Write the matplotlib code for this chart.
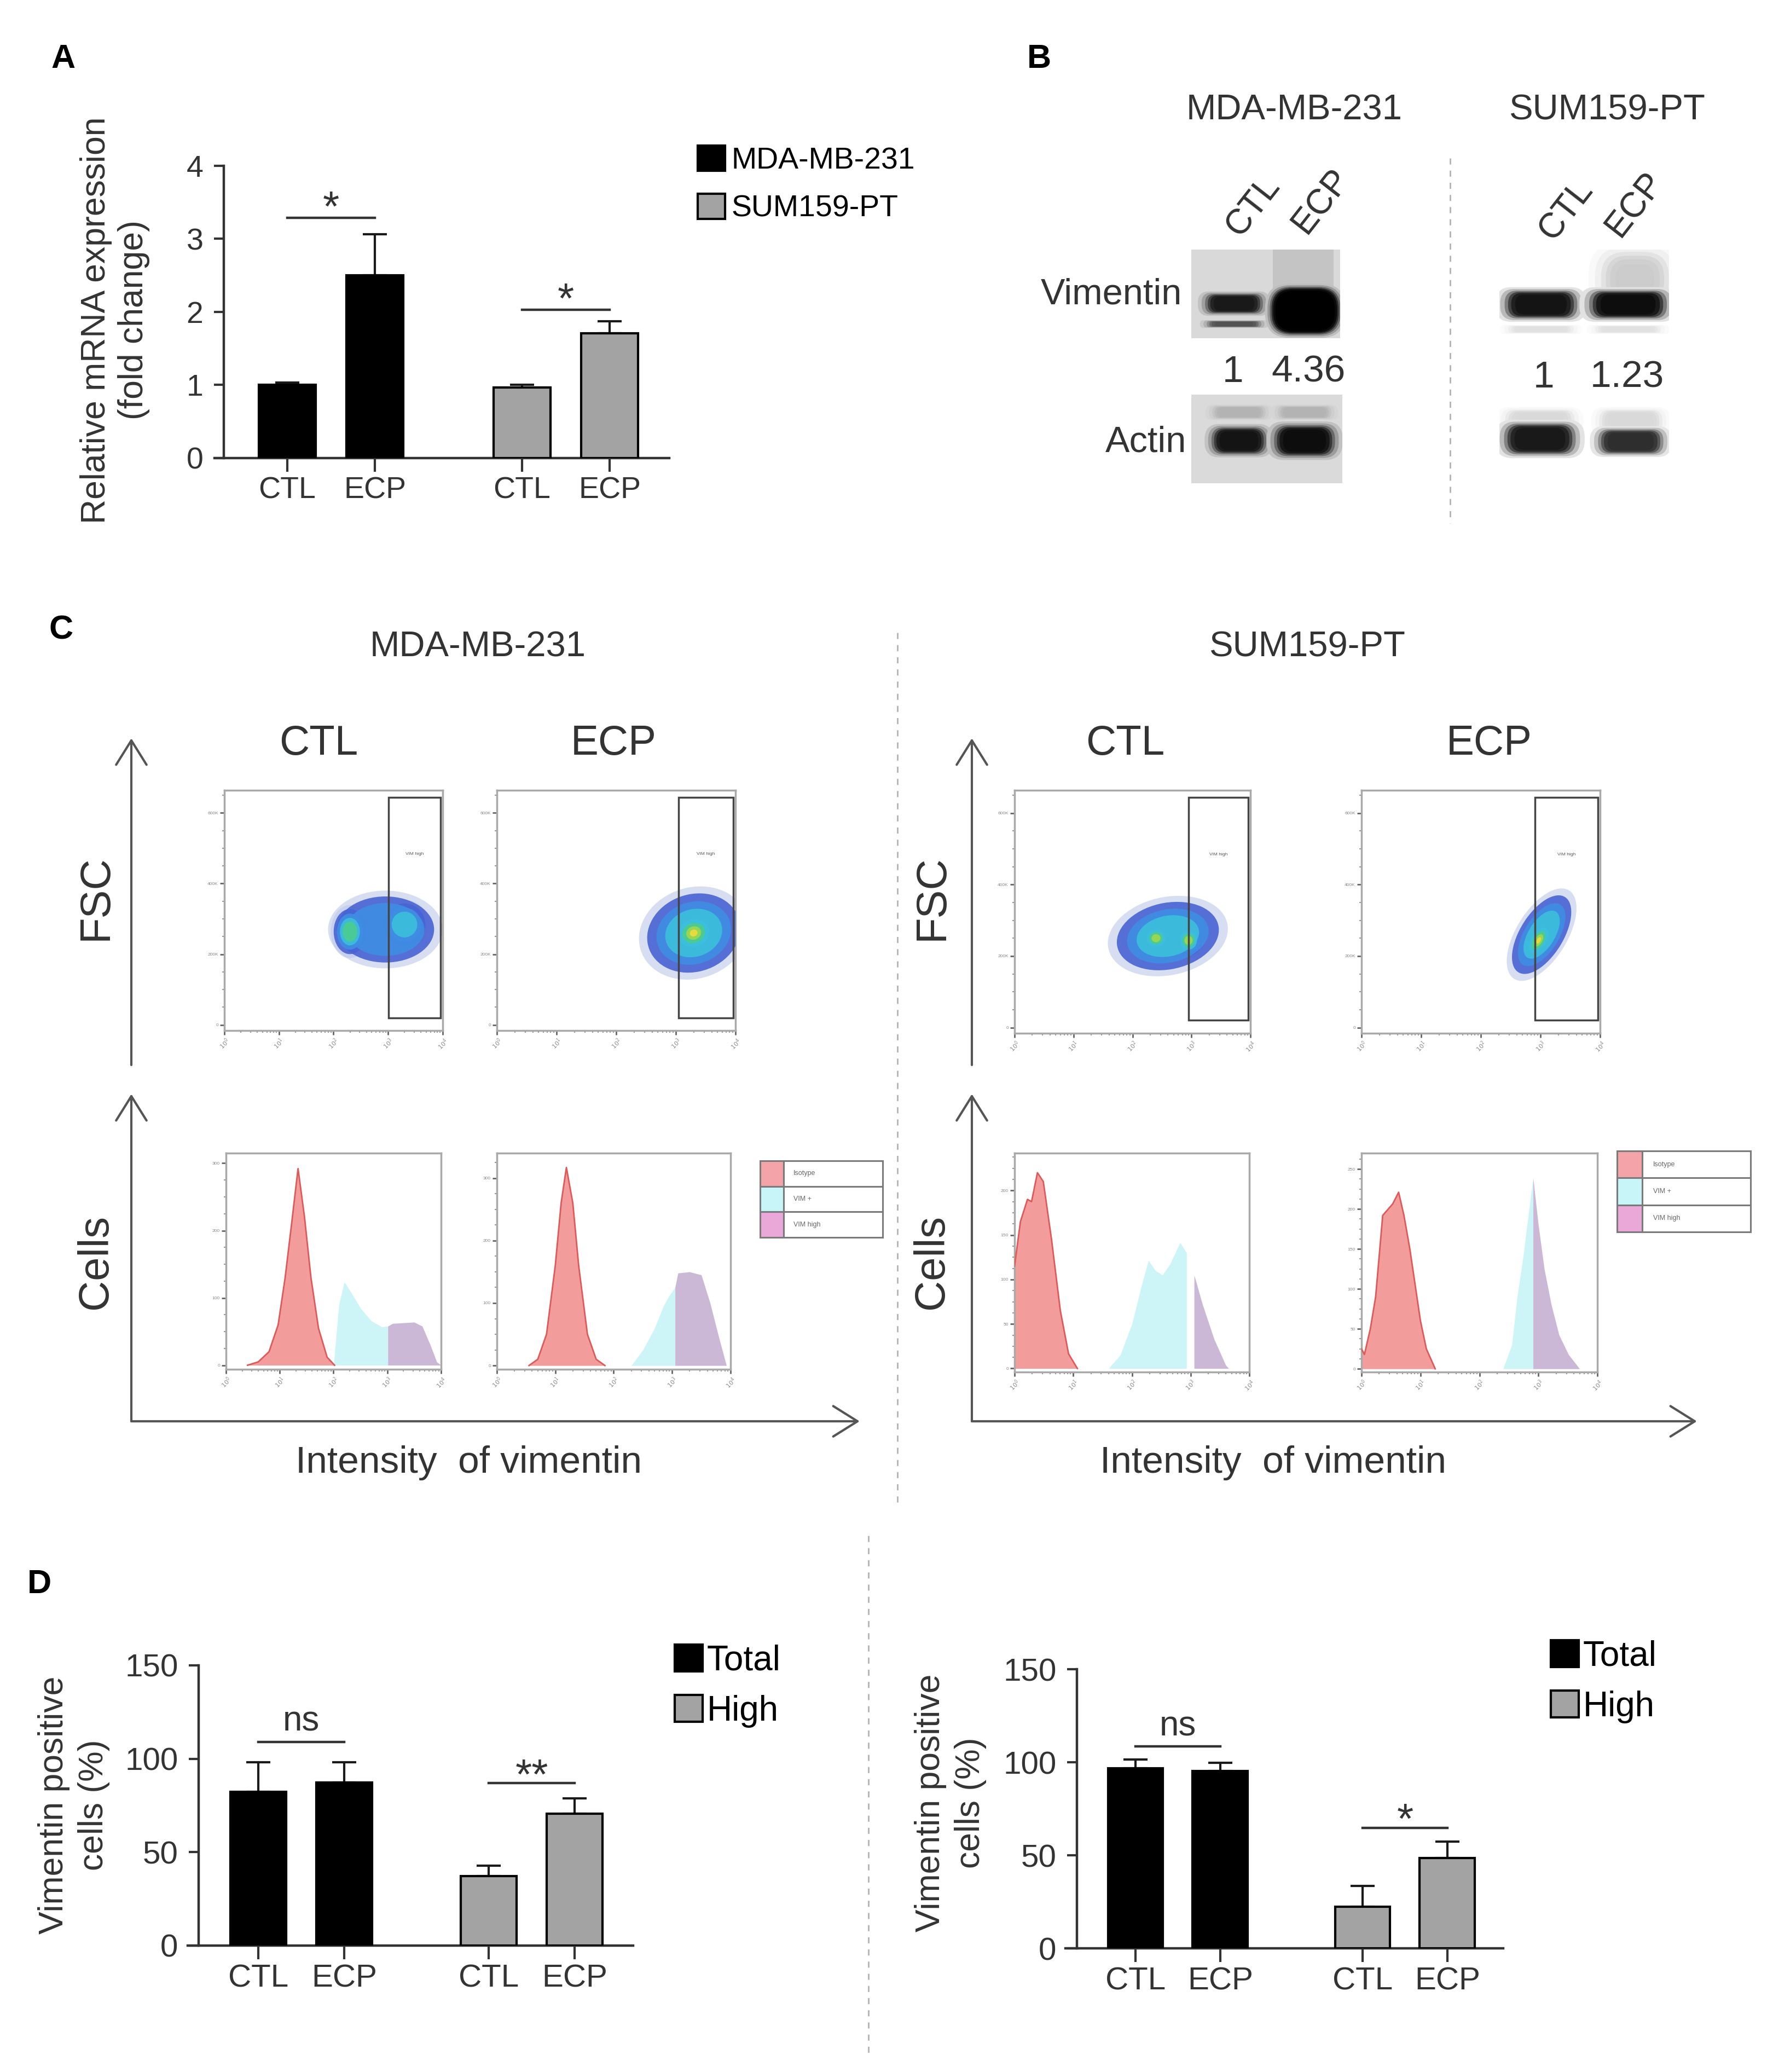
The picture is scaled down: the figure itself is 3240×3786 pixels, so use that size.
import numpy as np
import matplotlib
matplotlib.use("Agg")
import matplotlib.pyplot as plt
import matplotlib.colors as mcolors
from matplotlib.patches import Rectangle, Ellipse, FancyBboxPatch, FancyArrowPatch
from matplotlib.ticker import AutoMinorLocator

W, H = 3241, 3786
plt.rcParams['font.family'] = ['Liberation Sans', 'DejaVu Sans']
TXT = '#333333'

# ---------------- data ----------------
groups = ["CTL", "ECP", "CTL", "ECP"]

# A: relative mRNA expression (fold change)
mrna_lines = ["MDA-MB-231", "SUM159-PT"]
mrna_mean = [1.0, 2.5, 0.97, 1.71]
mrna_err = [0.03, 0.56, 0.03, 0.16]
mrna_sig_y = [3.29, 2.03]
mrna_sig_txt = ["*", "*"]

# B: western blot
blot_lanes = ["CTL", "ECP"]
vim_ratio_mda = ["1", "4.36"]
vim_ratio_sum = ["1", "1.23"]
vim_dark_mda = [0.9, 1.0]
actin_dark_mda = [0.92, 0.95]
vim_dark_sum = [0.92, 0.95]
actin_dark_sum = [0.9, 0.82]

# C: flow cytometry histograms (x in decades, y in axis tick units)
mda_ctl_iso_x = [0.4, 0.6, 0.8, 0.97, 1.1, 1.22, 1.34, 1.46, 1.58, 1.72, 1.88, 2.02]
mda_ctl_iso_y = [0.0, 0.05, 0.2, 0.6, 1.3, 2.1, 2.92, 2.2, 1.3, 0.55, 0.12, 0.0]
mda_ctl_vim_x = [2.0, 2.1, 2.2, 2.35, 2.5, 2.7, 2.9, 3.01, 3.1, 3.3, 3.5, 3.65, 3.8, 3.92, 4.0]
mda_ctl_vim_y = [0.0, 0.9, 1.24, 1.05, 0.85, 0.66, 0.57, 0.58, 0.62, 0.63, 0.64, 0.58, 0.3, 0.05, 0.0]

mda_ecp_iso_x = [0.55, 0.7, 0.85, 1.0, 1.1, 1.19, 1.3, 1.4, 1.55, 1.7, 1.85]
mda_ecp_iso_y = [0.0, 0.1, 0.5, 1.6, 2.6, 3.17, 2.6, 1.6, 0.5, 0.1, 0.0]
mda_ecp_vim_x = [2.3, 2.5, 2.7, 2.85, 2.95, 3.05, 3.1, 3.3, 3.5, 3.65, 3.8, 3.93]
mda_ecp_vim_y = [0.0, 0.25, 0.6, 0.95, 1.12, 1.25, 1.48, 1.5, 1.45, 1.0, 0.45, 0.0]

sum_ctl_iso_x = [0.0, 0.03, 0.1, 0.22, 0.29, 0.39, 0.49, 0.63, 0.78, 0.92, 1.07]
sum_ctl_iso_y = [2.3, 2.6, 3.3, 3.8, 3.75, 4.4, 4.2, 2.9, 1.3, 0.33, 0.0]
sum_ctl_vim_x = [1.6, 1.8, 2.0, 2.15, 2.28, 2.4, 2.52, 2.65, 2.82, 2.93, 3.06, 3.2, 3.4, 3.6, 3.65]
sum_ctl_vim_y = [0.0, 0.3, 1.0, 1.8, 2.43, 2.2, 2.1, 2.35, 2.83, 2.6, 2.1, 1.45, 0.66, 0.07, 0.0]

sum_ecp_iso_x = [0.0, 0.05, 0.15, 0.24, 0.36, 0.53, 0.63, 0.72, 0.82, 0.91, 1.0, 1.1, 1.25]
sum_ecp_iso_y = [0.5, 0.36, 1.0, 1.8, 3.84, 4.13, 4.42, 3.84, 3.0, 2.1, 1.2, 0.5, 0.0]
sum_ecp_vim_x = [2.4, 2.55, 2.64, 2.75, 2.84, 2.91, 3.0, 3.1, 3.22, 3.35, 3.51, 3.7]
sum_ecp_vim_y = [0.0, 0.6, 1.8, 2.9, 3.98, 4.78, 3.6, 2.5, 1.6, 0.85, 0.36, 0.0]

gate_lo = [3.01, 3.05, 2.95, 2.91]   # VIM high gate start (decades)
hist_labels = ["Isotype", "VIM +", "VIM high"]

# density clouds: (x, y, width, height, angle, levels)
mda_ctl_cloud = [(2.95, 1.35, 2.1, 1.1, 0, 3), (2.3, 1.32, 0.7, 0.75, 0, 5), (3.3, 1.42, 0.9, 0.7, 0, 4)]
mda_ecp_cloud = [(3.3, 1.3, 1.85, 1.3, 10, 4), (3.3, 1.3, 1.0, 0.75, 10, 7)]
sum_ctl_cloud = [(2.6, 1.28, 2.05, 1.1, 8, 4), (2.4, 1.25, 0.6, 0.45, 0, 6), (2.95, 1.22, 0.55, 0.5, 0, 6)]
sum_ecp_cloud = [(3.02, 1.3, 1.55, 0.8, 50, 4), (2.97, 1.22, 0.8, 0.45, 50, 7)]

# D: vimentin positive cells (%)
d_labels = ["Total", "High"]
d_mda_mean = [82.2, 87.4, 37.1, 70.5]
d_mda_err = [15.9, 10.7, 5.7, 8.2]
d_mda_sig_y = [109, 86.9]
d_mda_sig_txt = ["ns", "**"]
d_sum_mean = [96.7, 95.3, 22.5, 48.4]
d_sum_err = [4.9, 4.3, 11.1, 9.0]
d_sum_sig_y = [108.4, 64.8]
d_sum_sig_txt = ["ns", "*"]

bar_pos = [0, 1, 2.68, 3.68]
bar_colors = ['black', 'black', '#a3a3a3', '#a3a3a3']

# ---------------- figure ----------------
fig = plt.figure(figsize=(W / 100, H / 100), dpi=100)
canvas = fig.add_axes([0, 0, 1, 1])
canvas.set_xlim(0, W)
canvas.set_ylim(H, 0)
canvas.axis('off')


def px_axes(x0, y0, x1, y1):
    return fig.add_axes([x0 / W, 1 - y1 / H, (x1 - x0) / W, (y1 - y0) / H])


def label(x, y, s, size, rot=0, **kw):
    kw.setdefault('color', TXT)
    if rot == 0:
        # y is the centre of the capitals
        canvas.text(x, y + 0.36 * size * 100 / 72, s, fontsize=size, ha=kw.pop('ha', 'center'),
                    va='baseline', **kw)
    else:
        canvas.text(x, y, s, fontsize=size, ha=kw.pop('ha', 'center'), va='center',
                    rotation=rot, rotation_mode='anchor', **kw)


def dashed(x, y0, y1):
    canvas.plot([x, x], [y0, y1], color='#b3b3b3', lw=2, ls=(0, (4, 4)))


def arrow(x0, y0, x1, y1):
    canvas.add_patch(FancyArrowPatch((x0, y0), (x1, y1), arrowstyle='->,head_length=0.8,head_width=0.5',
                                     mutation_scale=40, lw=3, color='#555555', shrinkA=0, shrinkB=0))


# panel letters
for s, x, y in [("A", 116, 102), ("B", 1899, 102), ("C", 112, 1145), ("D", 72, 2889)]:
    label(x, y, s, 44, color='black', fontweight='bold')


# ---------------- bar panels (A, D) ----------------
def bar_panel(box, xlim, spine_x, means, errs, ylim, yticks, yfs, xfs, sig_y, sig_txt, sig_fs, sig_off):
    ax = px_axes(*box)
    bars = ax.bar(bar_pos, means, width=0.65, color=bar_colors, edgecolor='black', linewidth=3, zorder=3)
    ax.errorbar(bar_pos, means, yerr=[np.zeros(len(means)), errs], fmt='none', ecolor='#1a1a1a',
                elinewidth=3, capsize=16, capthick=3, zorder=2)
    ax.set_xlim(*xlim)
    ax.set_ylim(*ylim)
    ax.set_facecolor('none')
    for s in ['top', 'right']:
        ax.spines[s].set_visible(False)
    ax.spines['left'].set_position(('data', spine_x))
    ax.spines['left'].set_bounds(ylim[0], ylim[1])
    for s in ['left', 'bottom']:
        ax.spines[s].set_color('#333333')
        ax.spines[s].set_linewidth(3.2)
    ax.set_yticks(yticks)
    ax.set_xticks(bar_pos)
    ax.set_xticklabels(groups)
    ax.tick_params(axis='y', length=13, width=3, color='#333333', pad=14, labelsize=yfs, labelcolor=TXT)
    ax.tick_params(axis='x', length=18, width=3, color='#333333', pad=6, labelsize=xfs, labelcolor=TXT)
    for k, (y, s) in enumerate(zip(sig_y, sig_txt)):
        i, j = 2 * k, 2 * k + 1
        ax.plot([bar_pos[i], bar_pos[j]], [y, y], color='#333333', lw=3.2, clip_on=False)
        ax.text((bar_pos[i] + bar_pos[j]) / 2, y + sig_off[k], s, ha='center', va='baseline',
                fontsize=sig_fs[k], color=TXT, clip_on=False)
    return ax, bars


axA, barsA = bar_panel((392, 303, 1223, 837), (-0.83, 4.36), -0.725, mrna_mean, mrna_err, (0, 4),
                       [0, 1, 2, 3, 4], 40, 40, mrna_sig_y, mrna_sig_txt, [56, 56], [-0.04, -0.04])
fig.legend([barsA[0], barsA[2]], mrna_lines, loc='upper left', bbox_to_anchor=(1275 / W, 1 - 266 / H),
           frameon=False, prop={'size': 40}, handlelength=0.9, handleheight=0.9,
           handletextpad=0.2, labelspacing=0.6, borderpad=0, borderaxespad=0)
label(210, 585, "Relative mRNA expression\n(fold change)", 45, rot=90, linespacing=1.2,
      multialignment='center')

axD1, barsD1 = bar_panel((343, 3043, 1157, 3555), (-0.822, 4.36), -0.694, d_mda_mean, d_mda_err, (0, 150),
                         [0, 50, 100, 150], 42, 42, d_mda_sig_y, d_mda_sig_txt, [46, 56], [6, -3])
axD2, barsD2 = bar_panel((1947, 3050, 2747, 3560), (-0.826, 4.34), -0.69, d_sum_mean, d_sum_err, (0, 150),
                         [0, 50, 100, 150], 42, 42, d_sum_sig_y, d_sum_sig_txt, [46, 56], [6, -3])
for bars, (lx, ly) in [(barsD1, (1233, 3005)), (barsD2, (2834, 2997))]:
    fig.legend([bars[0], bars[2]], d_labels, loc='upper left', bbox_to_anchor=(lx / W, 1 - ly / H),
               frameon=False, prop={'size': 46}, handlelength=0.8, handleheight=0.8,
               handletextpad=0.12, labelspacing=0.5, borderpad=0, borderaxespad=0)
label(135, 3298, "Vimentin positive\ncells (%)", 45, rot=90, linespacing=1.3, multialignment='center')
label(1737, 3294, "Vimentin positive\ncells (%)", 45, rot=90, linespacing=1.3, multialignment='center')
dashed(1587, 2806, 3761)


# ---------------- panel B: western blots ----------------
def blot_axes(box, lane0, step, bg):
    x0, y0, x1, y1 = box
    ax = px_axes(*box)
    ax.set_xlim((x0 - lane0) / step, (x1 - lane0) / step)
    ax.set_ylim(0, 1)
    ax.set_facecolor(bg)
    for s in ax.spines.values():
        s.set_visible(False)
    ax.set_xticks([])
    ax.set_yticks([])
    ax.asp = step / (y1 - y0)
    ax.bg = np.array(mcolors.to_rgb(bg))
    return ax


def band(ax, x, y, w, h, dark, soft=1.0):
    fg = np.full(3, 1.0 - dark)
    for grow, t in [(1.45, 0.12), (1.3, 0.3), (1.16, 0.55), (1.05, 0.8), (0.95, 0.95), (0.82, 1.0)]:
        ww, hh = w * (1 + (grow - 1) * soft), h * (1 + (grow - 1) * soft)
        r = 0.45 * min(ww, hh / ax.asp)
        col = ax.bg + (fg - ax.bg) * t
        ax.add_patch(FancyBboxPatch((x - ww / 2, y - hh / 2), ww, hh,
                                    boxstyle='round,pad=0,rounding_size=%.4f' % r,
                                    mutation_aspect=ax.asp, fc=col, ec='none'))


bv1 = blot_axes((2177, 456, 2449, 618), 2255, 130, '#d9d9d9')
bv1.add_patch(Rectangle((0.55, 0.45), 0.85, 0.55, fc='#c4c4c4', ec='none'))
band(bv1, 0, 0.16, 0.66, 0.06, vim_dark_mda[0] * 0.75)
band(bv1, 0, 0.39, 0.7, 0.19, vim_dark_mda[0])
band(bv1, 1, 0.31, 0.92, 0.5, vim_dark_mda[1], soft=0.5)

ba1 = blot_axes((2177, 721, 2453, 883), 2264, 120, '#dadada')
for i in range(2):
    band(ba1, i, 0.8, 0.7, 0.12, 0.3)
    band(ba1, i, 0.48, 0.72 + 0.08 * i, 0.26 + 0.04 * i, actin_dark_mda[i])

bv2 = blot_axes((2740, 456, 3050, 618), 2816, 159, 'white')
band(bv2, 1.08, 0.66, 0.62, 0.5, 0.2, soft=1.6)
for i in range(2):
    band(bv2, i, 0.1, 0.65, 0.07, 0.12)
    band(bv2, i, 0.38, 0.72 + 0.05 * i, 0.27, vim_dark_sum[i])

ba2 = blot_axes((2740, 721, 3050, 883), 2814, 166, 'white')
for i in range(2):
    band(ba2, i, 0.7, 0.66 - 0.06 * i, 0.22, 0.15)
    band(ba2, i, 0.5 - 0.03 * i, 0.68 - 0.06 * i, 0.3 - 0.06 * i, actin_dark_sum[i])

label(2365, 195, "MDA-MB-231", 47)
label(2937, 195, "SUM159-PT", 47)
for s, x, y in zip(blot_lanes * 2, [2290, 2414, 2862, 2987], [377, 367, 384, 373]):
    label(x, y, s, 46, rot=52)
label(2160, 532, "Vimentin", 48, ha='right')
label(2168, 801, "Actin", 48, ha='right')
for s, x in zip(vim_ratio_mda, [2253, 2391]):
    label(x, 673, s, 50)
for s, x in zip(vim_ratio_sum, [2821, 2973]):
    label(x, 683, s, 50)
dashed(2650, 289, 956)

# ---------------- panel C: flow cytometry ----------------
DENS = ['#bdc8ea', '#4863d4', '#3f8ee4', '#3cc0dc', '#4ccc8c', '#a0d84c', '#f0dc3c']
SIZES = [1.0, 0.85, 0.68, 0.52, 0.38, 0.25, 0.13]
ISO_FILL, ISO_EDGE = '#f39c9c', '#dd5a5a'
VIM_FILL, HIGH_FILL = '#cdf5f7', '#cbb8d6'
LEG_FILL = ['#f4a4a8', '#c8f6f8', '#e9a8d8']


def flow_frame(ax, ylim, yticks, ylabels):
    ax.set_xlim(0, 4)
    ax.set_ylim(*ylim)
    for s in ax.spines.values():
        s.set_color('#a9a9a9')
        s.set_linewidth(2.5)
    ax.set_xticks(range(5))
    ax.set_xticklabels([r'$10^{%d}$' % i for i in range(5)], rotation=45, fontsize=8, color='#8a8a8a')
    ax.set_xticks([d + np.log10(m) for d in range(4) for m in range(2, 10)], minor=True)
    ax.set_yticks(yticks)
    ax.set_yticklabels(ylabels, fontsize=6, color='#8a8a8a')
    ax.yaxis.set_minor_locator(AutoMinorLocator(4))
    ax.tick_params(which='major', length=6, width=2, color='#666666', pad=2)
    ax.tick_params(which='minor', length=3, width=1.5, color='#999999')


def scatter_panel(box, blobs, g0):
    ax = px_axes(*box)
    flow_frame(ax, (-0.08, 3.32), [0, 1, 2, 3], ['0', '200K', '400K', '600K'])
    for cx, cy, w, h, ang, lev in blobs:
        for k in range(lev):
            ax.add_patch(Ellipse((cx, cy), w * SIZES[k], h * SIZES[k], angle=ang, fc=DENS[k], ec='none',
                                 alpha=0.6 if k == 0 else 0.9, zorder=2 + k))
    ax.add_patch(Rectangle((g0, 0.1), 3.96 - g0, 3.12, fill=False, ec='#444444', lw=2.5, zorder=20))
    ax.text((g0 + 3.96) / 2, 2.42, "VIM high", fontsize=6, ha='center', va='center', color='#555555', zorder=21)


def hist_panel(box, ylim, yticks, ylabels, ix, iy, vx, vy, g0):
    ax = px_axes(*box)
    flow_frame(ax, ylim, yticks, ylabels)
    ax.fill_between(ix, iy, color=ISO_FILL, lw=0, zorder=2)
    ax.plot(ix, iy, color=ISO_EDGE, lw=2, zorder=3)
    vx = np.array(vx)
    ax.fill_between(vx, vy, where=vx <= g0, color=VIM_FILL, lw=0, zorder=2)
    ax.fill_between(vx, vy, where=vx >= g0, color=HIGH_FILL, lw=0, zorder=2)


def hist_legend(box):
    ax = px_axes(*box)
    ax.axis('off')
    tb = ax.table(cellText=[['', t] for t in hist_labels], cellColours=[[c, 'white'] for c in LEG_FILL],
                  colWidths=[0.19, 0.81], bbox=[0, 0, 1, 1], cellLoc='left')
    tb.auto_set_font_size(False)
    tb.set_fontsize(9)
    for cell in tb.get_celld().values():
        cell.set_edgecolor('#7a7a7a')
        cell.set_linewidth(2.2)
        cell.get_text().set_color('#666666')


scatter_panel((410, 1444, 809, 1883), mda_ctl_cloud, gate_lo[0])
scatter_panel((908, 1444, 1344, 1883), mda_ecp_cloud, gate_lo[1])
scatter_panel((1854, 1444, 2285, 1888), sum_ctl_cloud, gate_lo[2])
scatter_panel((2488, 1444, 2924, 1888), sum_ecp_cloud, gate_lo[3])

hist_panel((413, 2107, 806, 2502), (-0.06, 3.15), [0, 1, 2, 3], ['0', '100', '200', '300'],
           mda_ctl_iso_x, mda_ctl_iso_y, mda_ctl_vim_x, mda_ctl_vim_y, gate_lo[0])
hist_panel((908, 2107, 1335, 2502), (-0.06, 3.4), [0, 1, 2, 3], ['0', '100', '200', '300'],
           mda_ecp_iso_x, mda_ecp_iso_y, mda_ecp_vim_x, mda_ecp_vim_y, gate_lo[1])
hist_panel((1854, 2107, 2283, 2507), (-0.08, 4.84), [0, 1, 2, 3, 4], ['0', '50', '100', '150', '200'],
           sum_ctl_iso_x, sum_ctl_iso_y, sum_ctl_vim_x, sum_ctl_vim_y, gate_lo[2])
hist_panel((2488, 2107, 2919, 2507), (-0.08, 5.4), [0, 1, 2, 3, 4, 5], ['0', '50', '100', '150', '200', '250'],
           sum_ecp_iso_x, sum_ecp_iso_y, sum_ecp_vim_x, sum_ecp_vim_y, gate_lo[3])
hist_legend((1389, 2121, 1613, 2261))
hist_legend((2955, 2103, 3199, 2251))

# axis arrows (FSC, Cells, intensity)
for xa, xe in [(240, 1571), (1776, 3101)]:
    arrow(xa, 1946, xa, 1349)
    arrow(xa, 2597, xa, 1999)
    arrow(xa, 2597, xe, 2597)

label(873, 1176, "MDA-MB-231", 47)
label(2389, 1176, "SUM159-PT", 47)
for s, x in zip(blot_lanes * 2, [582, 1121, 2056, 2721]):
    label(x, 1351, s, 55)
for x in [175, 1703]:
    label(x, 1640, "FSC", 56, rot=90)
    label(x, 2306, "Cells", 56, rot=90)
label(857, 2666, "Intensity  of vimentin", 50)
label(2327, 2666, "Intensity  of vimentin", 50)
dashed(1640, 1156, 2746)

fig.savefig("out.png", dpi=100, facecolor='white')
